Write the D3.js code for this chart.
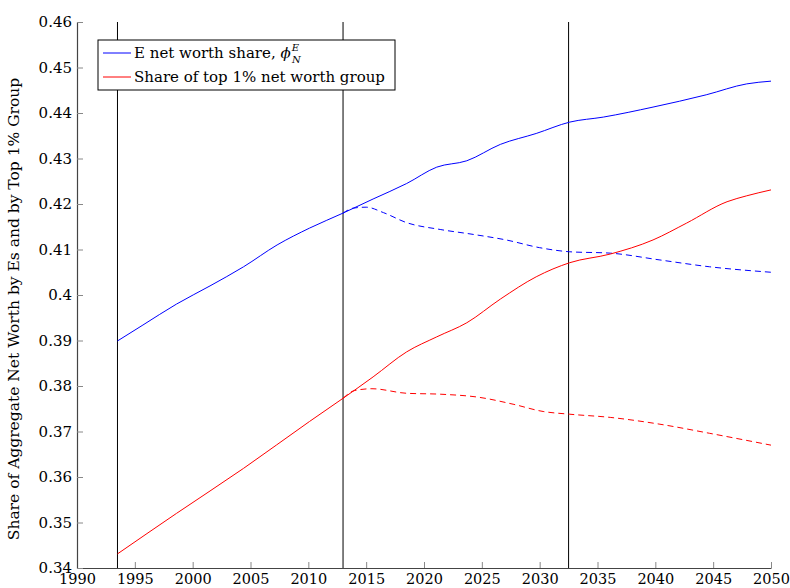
<!DOCTYPE html>
<html>
<head>
<meta charset="utf-8">
<script src="https://cdn.jsdelivr.net/npm/d3@7"></script>
<style>
  html, body { margin: 0; padding: 0; background: #fff; }
  svg { display: block; font-family: "DejaVu Serif", serif; }
</style>
</head>
<body>
<svg id="chart" width="790" height="588"></svg>
<script>
// ---- data ----
const blueSolidYears  = [1993.5, 1995.7, 1998.6, 2001.5, 2004.4, 2007.3, 2010.1, 2013, 2015.6, 2018.5, 2021.1, 2023.7, 2026.6, 2029.7, 2032.6, 2035.5, 2039.8, 2044.4, 2047.9, 2050];
const blueSolidValues = [0.3899, 0.3934, 0.3980, 0.4020, 0.4062, 0.4110, 0.4147, 0.4180, 0.4211, 0.4245, 0.4281, 0.4295, 0.4331, 0.4355, 0.4380, 0.4391, 0.4413, 0.4440, 0.4464, 0.4470];

const blueDashYears  = [2013, 2013.9, 2015.0, 2016.5, 2018.5, 2021.4, 2024.3, 2027.1, 2030.0, 2032.6, 2036.1, 2040.4, 2044.7, 2050];
const blueDashValues = [0.4180, 0.4191, 0.4193, 0.4181, 0.4159, 0.4144, 0.4133, 0.4121, 0.4104, 0.4095, 0.4092, 0.4077, 0.4062, 0.4050];

const redSolidYears  = [1993.5, 1998.6, 2004.4, 2010.1, 2013, 2015.6, 2018.5, 2021.1, 2023.7, 2026.6, 2029.7, 2032.6, 2036.1, 2039.8, 2042.7, 2046.2, 2047.9, 2050];
const redSolidValues = [0.3431, 0.3520, 0.3619, 0.3722, 0.3773, 0.3820, 0.3875, 0.3908, 0.3939, 0.3991, 0.4040, 0.4071, 0.4090, 0.4121, 0.4158, 0.4205, 0.4218, 0.4231];

const redDashYears  = [2013, 2014.0, 2015.5, 2018.5, 2021.4, 2024.8, 2027.7, 2030.3, 2032.6, 2036.1, 2040.4, 2044.7, 2050];
const redDashValues = [0.3773, 0.3790, 0.3794, 0.3784, 0.3782, 0.3775, 0.3760, 0.3744, 0.3738, 0.3731, 0.3716, 0.3696, 0.3670];

const verticalLineYears = [1993.5, 2013, 2032.5];

const xTicks = [1990, 1995, 2000, 2005, 2010, 2015, 2020, 2025, 2030, 2035, 2040, 2045, 2050];
const yTicks = [0.34, 0.35, 0.36, 0.37, 0.38, 0.39, 0.40, 0.41, 0.42, 0.43, 0.44, 0.45, 0.46];
const yTickLabels = ["0.34", "0.35", "0.36", "0.37", "0.38", "0.39", "0.4", "0.41", "0.42", "0.43", "0.44", "0.45", "0.46"];

const yAxisTitle = "Share of Aggregate Net Worth by Es and by Top 1% Group";
const legendLabel2 = "Share of top 1% net worth group";

// ---- layout ----
const svg = d3.select("#chart");
const mLeft = 77, mRight = 771, mTop = 22, mBottom = 568;
const FONT = "'DejaVu Serif', serif";

const x = d3.scaleLinear().domain([1990, 2050]).range([mLeft, mRight]);
const y = d3.scaleLinear().domain([0.34, 0.46]).range([mBottom, mTop]);

const zip = (xs, ys) => xs.map((v, i) => [v, ys[i]]);
const line = d3.line().x(d => x(d[0])).y(d => y(d[1])).curve(d3.curveMonotoneX);

// vertical lines
svg.append("g").selectAll("line").data(verticalLineYears).join("line")
  .attr("x1", d => x(d)).attr("x2", d => x(d))
  .attr("y1", y(0.46)).attr("y2", y(0.34))
  .attr("stroke", "#000").attr("stroke-width", 1);

// series
const series = [
  { data: zip(blueDashYears, blueDashValues), color: "#0000ff", dash: "6,4" },
  { data: zip(redDashYears, redDashValues), color: "#ff0000", dash: "6,4" },
  { data: zip(blueSolidYears, blueSolidValues), color: "#0000ff", dash: null },
  { data: zip(redSolidYears, redSolidValues), color: "#ff0000", dash: null }
];
svg.append("g").selectAll("path").data(series).join("path")
  .attr("d", d => line(d.data))
  .attr("fill", "none")
  .attr("stroke", d => d.color)
  .attr("stroke-width", 1)
  .attr("stroke-dasharray", d => d.dash);

// axes
const xAxis = d3.axisBottom(x).tickValues(xTicks).tickFormat(d3.format("d")).tickSizeInner(-6).tickSizeOuter(0);
const gx = svg.append("g").attr("transform", `translate(0,${mBottom})`).call(xAxis);
const yAxis = d3.axisLeft(y).tickValues(yTicks).tickFormat((d, i) => yTickLabels[i]).tickSizeInner(-6).tickSizeOuter(0).tickPadding(11);
const gy = svg.append("g").attr("transform", `translate(${mLeft},0)`).call(yAxis);

[gx, gy].forEach(g => {
  g.attr("font-family", FONT).attr("font-size", 15);
  g.select(".domain").attr("stroke", "#444").attr("stroke-width", 1.2);
  g.selectAll(".tick line").attr("stroke", "#888").attr("stroke-width", 1);
  g.selectAll(".tick text").attr("fill", "#000");
});
gx.attr("font-size", 14.5);
gx.selectAll(".tick text").attr("y", 16).attr("dy", "0");
gy.selectAll(".tick text").attr("x", -5).attr("dy", "0.33em");

// y axis title
svg.append("text")
  .attr("transform", `translate(19,309) rotate(-90)`)
  .attr("text-anchor", "middle")
  .attr("font-family", FONT)
  .attr("font-size", 15.5)
  .text(yAxisTitle);

// legend
const lg = svg.append("g").attr("font-family", FONT).attr("font-size", 15);
lg.append("rect").attr("x", 98).attr("y", 40).attr("width", 297).attr("height", 50)
  .attr("fill", "#fff").attr("stroke", "#000").attr("stroke-width", 1);
const legendRows = [
  { color: "#0000ff", y: 53 },
  { color: "#ff0000", y: 77 }
];
lg.selectAll("line").data(legendRows).join("line")
  .attr("x1", 103).attr("x2", 131)
  .attr("y1", d => d.y).attr("y2", d => d.y)
  .attr("stroke", d => d.color).attr("stroke-width", 1);

const t1 = lg.append("text").attr("x", 134).attr("y", 58);
t1.append("tspan").text("E net worth share, ");
t1.append("tspan").style("font-style", "italic").text("\u03D5");
t1.append("tspan").style("font-style", "italic").attr("font-size", 10).attr("dy", "-7").attr("dx", "1").text("E");
t1.append("tspan").style("font-style", "italic").attr("font-size", 10).attr("dy", "12").attr("dx", "-7").text("N");

lg.append("text").attr("x", 134).attr("y", 82).text(legendLabel2);
</script>
</body>
</html>
